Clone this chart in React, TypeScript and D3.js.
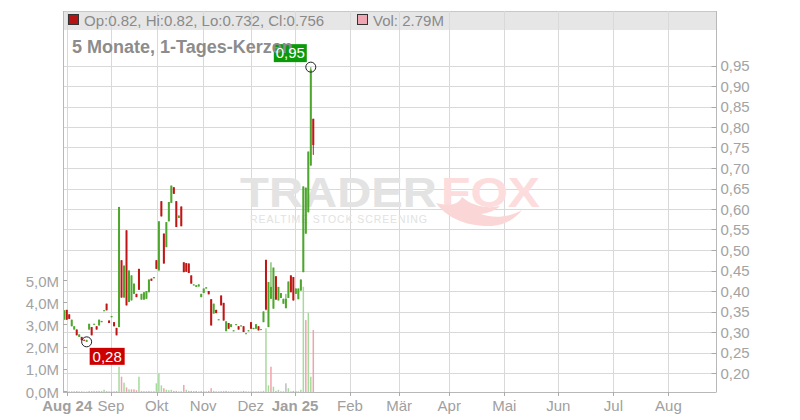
import React from 'react';
import * as d3 from 'd3';

// ---- data ----
const opens = [
  0.330, 0.354, 0.343, 0.314, 0.306, 0.306, 0.288, 0.288, 0.281, 0.276,
  0.306, 0.312, 0.318, 0.314, 0.316, 0.324, 0.351, 0.369, 0.328, 0.336,
  0.324, 0.310, 0.312, 0.475, 0.384, 0.548, 0.373, 0.377, 0.393, 0.393,
  0.454, 0.379, 0.379, 0.381, 0.397, 0.430, 0.431, 0.475, 0.450, 0.619,
  0.540, 0.507, 0.570, 0.615, 0.653, 0.619, 0.578, 0.606, 0.470, 0.468,
  0.467, 0.438, 0.414, 0.410, 0.411, 0.385, 0.395, 0.406, 0.400, 0.380,
  0.345, 0.354, 0.329, 0.389, 0.371, 0.302, 0.322, 0.312, 0.302, 0.317,
  0.314, 0.314, 0.314, 0.296, 0.302, 0.324, 0.307, 0.308, 0.314, 0.306,
  0.324, 0.476, 0.312, 0.381, 0.357, 0.436, 0.377, 0.383, 0.369, 0.358,
  0.383, 0.438, 0.434, 0.393, 0.380, 0.401, 0.446, 0.540, 0.592, 0.706, 0.820,
];
const highs = [
  0.353, 0.354, 0.343, 0.330, 0.314, 0.306, 0.294, 0.288, 0.281, 0.281,
  0.320, 0.312, 0.320, 0.314, 0.330, 0.327, 0.353, 0.369, 0.328, 0.339,
  0.324, 0.310, 0.605, 0.475, 0.462, 0.548, 0.450, 0.438, 0.418, 0.393,
  0.454, 0.393, 0.397, 0.400, 0.428, 0.430, 0.434, 0.475, 0.570, 0.619,
  0.540, 0.568, 0.617, 0.657, 0.653, 0.619, 0.584, 0.606, 0.470, 0.468,
  0.467, 0.438, 0.416, 0.414, 0.416, 0.393, 0.406, 0.409, 0.400, 0.380,
  0.369, 0.354, 0.331, 0.389, 0.371, 0.326, 0.322, 0.319, 0.304, 0.319,
  0.314, 0.316, 0.314, 0.297, 0.304, 0.324, 0.310, 0.319, 0.314, 0.307,
  0.350, 0.476, 0.422, 0.470, 0.457, 0.436, 0.410, 0.395, 0.381, 0.393,
  0.423, 0.438, 0.434, 0.406, 0.406, 0.428, 0.655, 0.652, 0.740, 0.946, 0.820,
];
const lows = [
  0.330, 0.330, 0.332, 0.314, 0.306, 0.292, 0.288, 0.280, 0.280, 0.276,
  0.306, 0.292, 0.318, 0.306, 0.316, 0.324, 0.351, 0.353, 0.322, 0.336,
  0.314, 0.292, 0.312, 0.384, 0.384, 0.365, 0.373, 0.377, 0.393, 0.385,
  0.403, 0.379, 0.379, 0.381, 0.397, 0.425, 0.431, 0.454, 0.450, 0.582,
  0.467, 0.507, 0.570, 0.615, 0.637, 0.556, 0.578, 0.558, 0.446, 0.447,
  0.444, 0.418, 0.414, 0.410, 0.411, 0.385, 0.395, 0.406, 0.392, 0.316,
  0.345, 0.346, 0.329, 0.365, 0.328, 0.302, 0.308, 0.312, 0.302, 0.317,
  0.306, 0.314, 0.300, 0.296, 0.302, 0.308, 0.307, 0.308, 0.304, 0.306,
  0.324, 0.353, 0.312, 0.381, 0.357, 0.379, 0.377, 0.383, 0.369, 0.358,
  0.383, 0.397, 0.377, 0.393, 0.380, 0.401, 0.446, 0.540, 0.592, 0.706, 0.732,
];
const closes = [
  0.353, 0.330, 0.332, 0.330, 0.314, 0.292, 0.294, 0.280, 0.280, 0.280,
  0.320, 0.292, 0.320, 0.306, 0.330, 0.327, 0.353, 0.353, 0.322, 0.339,
  0.314, 0.292, 0.605, 0.384, 0.462, 0.365, 0.450, 0.438, 0.418, 0.385,
  0.403, 0.393, 0.397, 0.400, 0.428, 0.425, 0.434, 0.454, 0.570, 0.582,
  0.467, 0.568, 0.617, 0.657, 0.637, 0.556, 0.584, 0.558, 0.446, 0.447,
  0.444, 0.418, 0.416, 0.414, 0.416, 0.393, 0.406, 0.409, 0.392, 0.316,
  0.369, 0.346, 0.331, 0.365, 0.328, 0.326, 0.308, 0.319, 0.304, 0.319,
  0.306, 0.316, 0.300, 0.297, 0.304, 0.308, 0.310, 0.319, 0.304, 0.307,
  0.350, 0.355, 0.422, 0.410, 0.457, 0.379, 0.410, 0.395, 0.381, 0.381,
  0.423, 0.397, 0.377, 0.406, 0.406, 0.428, 0.655, 0.652, 0.740, 0.940, 0.756,
];
// volume in millions
const volumes = [
  0.05, 0.04, 0.03, 0.03, 0.03, 0.04, 0.03, 0.03, 0.02, 0.02,
  0.05, 0.04, 0.05, 0.04, 0.05, 0.04, 0.10, 0.04, 0.03, 0.04,
  0.03, 0.04, 1.14, 0.69, 0.42, 0.21, 0.12, 0.12, 0.12, 0.08,
  0.69, 0.04, 0.04, 0.04, 0.05, 0.03, 0.04, 0.39, 0.84, 0.30,
  0.17, 0.10, 0.08, 0.10, 0.05, 0.05, 0.03, 0.03, 0.32, 0.10,
  0.05, 0.05, 0.04, 0.05, 0.03, 0.04, 0.05, 0.03, 0.05, 0.17,
  0.05, 0.03, 0.03, 0.04, 0.04, 0.05, 0.03, 0.03, 0.03, 0.03,
  0.03, 0.03, 0.05, 0.03, 0.03, 0.03, 0.03, 0.03, 0.03, 0.03,
  0.05, 2.87, 0.30, 1.14, 0.24, 0.05, 0.10, 0.03, 0.03, 0.39,
  0.17, 0.03, 0.05, 0.05, 0.03, 0.10, 4.74, 3.24, 3.57, 0.69, 2.79,
];
// month ticks, positioned in candle-slot units
const monthLabels = ['Aug 24', 'Sep', 'Okt', 'Nov', 'Dez', 'Jan 25', 'Feb', 'Mär', 'Apr', 'Mai', 'Jun', 'Jul', 'Aug'];
const monthSlots = [1.2, 18.76, 37.1, 55.8, 74.9, 92.7, 114.7, 134.5, 154.6, 176.7, 198.4, 220.5, 242.6];
const boldMonths = ['Aug 24', 'Jan 25'];
const volumeTicks = [0, 1, 2, 3, 4, 5];
const titleText = '5 Monate, 1-Tages-Kerzen';

const FONT = '"Liberation Sans", Arial, Helvetica, sans-serif';
const UP = '#4da72e';
const DOWN = '#c01515';
const VUP = '#a6da9c';
const VDOWN = '#f0a3ab';
const VFLAT = '#bdbdbd';

const de = d3.formatLocale({ decimal: ',', thousands: '.', grouping: [3], currency: ['', '€'] });
const fmt2 = de.format('.2f');
const fmt1 = de.format('.1f');

export default function App() {
  const W = 800, H = 420;
  const left = 63, right = 716.5, top = 11, bottom = 392;
  const x = d3.scaleLinear().domain([-0.5, 261.9]).range([left, right]);
  const y = d3.scaleLinear().domain([0.2, 0.95]).range([373, 65.5]);
  const yv = d3.scaleLinear().domain([0, 5]).range([bottom, 281]);
  const priceTicks = y.ticks(15);

  const n = closes.length;
  const idx = d3.range(n);
  const hiIdx = d3.maxIndex(highs);
  const loIdx = d3.minIndex(lows);
  const last = n - 1;

  const hx = x(hiIdx), hy = y(highs[hiIdx]);
  const lx = x(loIdx), ly = y(lows[loIdx]);

  const legendText = `Op:${opens[last]}, Hi:${highs[last]}, Lo:${lows[last]}, Cl:${closes[last]}`;
  const volText = `Vol: ${volumes[last].toFixed(2)}M`;

  return (
    <svg width={W} height={H} style={{ position: 'absolute', left: 0, top: 0, background: '#fff' }} fontFamily={FONT}>
      {/* header band */}
      <rect x={left} y={top} width={right - left} height={19} fill="#e6e6e6" />
      <line x1={left} x2={right} y1={top + 0.5} y2={top + 0.5} stroke="#c8c8c8" />

      {/* grid */}
      {monthSlots.map((s, i) => (
        <line key={'vg' + i} x1={Math.round(x(s)) + 0.5} x2={Math.round(x(s)) + 0.5} y1={top} y2={bottom} stroke="#d9d9d9" />
      ))}
      {priceTicks.map((t, i) => (
        <line key={'hg' + i} x1={left} x2={right} y1={Math.round(y(t)) + 0.5} y2={Math.round(y(t)) + 0.5} stroke="#d9d9d9" />
      ))}

      {/* watermark */}
      <g>
        <text x={240} y={207} fontSize={42} fontWeight={900} fill="#e3e3e3" textLength={197} lengthAdjust="spacingAndGlyphs">TRADER</text>
        <text x={441} y={207} fontSize={42} fontWeight={900} fill="#fcdcdc" textLength={99} lengthAdjust="spacingAndGlyphs">FOX</text>
        <path d="M436 203 C446 217 466 227 492 226 C505 225 515 219 522 210 C510 217 494 219 481 214 C489 213 496 210 500 206 C487 209 472 206 462 197 C459 204 451 207 436 203 Z" fill="#fbd6d6" />
        <text x={250} y={223} fontSize={10.5} fill="#e2e2e2" textLength={177} lengthAdjust="spacing">REALTIME STOCK SCREENING</text>
      </g>

      {/* volume bars */}
      {idx.map(i => {
        const prev = i > 0 ? closes[i - 1] : closes[i];
        const c = closes[i] > prev ? VUP : closes[i] < prev ? VDOWN : VFLAT;
        const yt = yv(volumes[i]);
        return <rect key={'v' + i} x={x(i) - 0.75} y={yt} width={1.5} height={Math.max(0.5, bottom - yt)} fill={c} />;
      })}

      {/* candles */}
      {idx.map(i => {
        const up = closes[i] >= opens[i];
        const col = up ? UP : DOWN;
        const cx = x(i);
        const yTop = y(Math.max(opens[i], closes[i]));
        const yBot = y(Math.min(opens[i], closes[i]));
        return (
          <g key={'c' + i}>
            <line x1={cx} x2={cx} y1={y(highs[i])} y2={y(lows[i])} stroke={col} strokeWidth={1} />
            <rect x={cx - 1} y={yTop} width={2} height={Math.max(1, yBot - yTop)} fill={col} />
          </g>
        );
      })}

      {/* axes */}
      <line x1={left + 0.5} x2={left + 0.5} y1={top} y2={bottom} stroke="#b8b8b8" />
      <line x1={right} x2={right} y1={top} y2={bottom} stroke="#b8b8b8" />
      <line x1={left} x2={right} y1={bottom + 0.5} y2={bottom + 0.5} stroke="#b8b8b8" />

      {/* right price axis */}
      {priceTicks.map((t, i) => (
        <g key={'pt' + i}>
          <line x1={right - 5} x2={right} y1={Math.round(y(t)) + 0.5} y2={Math.round(y(t)) + 0.5} stroke="#aaaaaa" />
          <text x={right + 4} y={y(t) + 5.5} fontSize={15} fill="#a3a3a3">{fmt2(t)}</text>
        </g>
      ))}

      {/* left volume axis */}
      {volumeTicks.map((t, i) => (
        <g key={'vt' + i}>
          <line x1={left} x2={left + 4} y1={Math.round(yv(t)) - 0.5} y2={Math.round(yv(t)) - 0.5} stroke="#aaaaaa" />
          <text x={59} y={yv(t) + 5.5} fontSize={15} fill="#a3a3a3" textAnchor="end">{fmt1(t)}M</text>
        </g>
      ))}

      {/* bottom month axis */}
      {monthSlots.map((s, i) => (
        <g key={'mt' + i}>
          <line x1={Math.round(x(s)) + 0.5} x2={Math.round(x(s)) + 0.5} y1={bottom} y2={bottom + 4} stroke="#aaaaaa" />
          <text x={x(s)} y={411} fontSize={15} textAnchor="middle"
            fontWeight={boldMonths.includes(monthLabels[i]) ? 'bold' : 'normal'}
            fill="#a0a0a0">{monthLabels[i]}</text>
        </g>
      ))}

      {/* low marker */}
      <circle cx={lx} cy={ly} r={5} fill="none" stroke="#222" strokeWidth={1} />
      <rect x={lx + 3} y={ly + 6} width={35} height={17} fill="#cc0000" />
      <text x={lx + 20.5} y={ly + 20} fontSize={15} fill="#fff" textAnchor="middle">{fmt2(lows[loIdx])}</text>

      {/* high marker */}
      <circle cx={hx} cy={hy} r={5} fill="none" stroke="#222" strokeWidth={1} />
      <rect x={hx - 37} y={hy - 23} width={33} height={18} fill="#0a9a0a" />

      {/* title */}
      <text x={72} y={53} fontSize={18} fontWeight="bold" fill="#8c8c8c">{titleText}</text>
      <text x={hx - 20.5} y={hy - 9} fontSize={15} fill="#fff" textAnchor="middle">{fmt2(highs[hiIdx])}</text>

      {/* legend */}
      <rect x={68.5} y={14.5} width={10} height={10} fill="#b51414" stroke="#333" />
      <text x={84} y={25.5} fontSize={15} fill="#8a8a8a">{legendText}</text>
      <rect x={357.5} y={14.5} width={10} height={10} fill="#f0a6b2" stroke="#333" />
      <text x={373} y={25.5} fontSize={15} fill="#8a8a8a">{volText}</text>
    </svg>
  );
}
